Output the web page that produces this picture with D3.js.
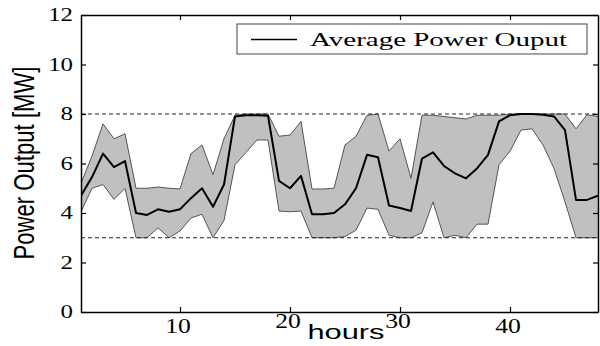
<!DOCTYPE html>
<html>
<head>
<meta charset="utf-8">
<script src="https://cdn.jsdelivr.net/npm/d3@7/dist/d3.min.js"></script>
<style>
  html, body { margin: 0; padding: 0; background: #fff; }
  svg { display: block; }
</style>
</head>
<body>
<svg id="chart" width="600" height="346"></svg>
<script>
// ---- data ----
const hours = [1,2,3,4,5,6,7,8,9,10,11,12,13,14,15,16,17,18,19,20,21,22,23,24,
               25,26,27,28,29,30,31,32,33,34,35,36,37,38,39,40,41,42,43,44,45,46,47,48];
const upperBound = [5.2,6.3,7.6,7.0,7.2,5.0,5.0,5.05,5.0,4.97,6.4,6.75,5.55,7.0,7.95,8.0,8.0,8.0,
                    7.1,7.15,7.7,4.97,4.97,5.0,6.75,7.1,7.95,8.0,6.5,7.0,5.4,7.95,7.95,7.9,7.85,7.8,
                    7.95,7.95,7.95,8.0,8.0,8.0,8.0,8.0,8.0,7.4,7.97,7.9];
const meanOutput = [4.7,5.45,6.4,5.85,6.1,4.0,3.92,4.15,4.05,4.15,4.6,5.0,4.25,5.15,7.9,7.95,7.95,7.93,
                    5.3,5.0,5.5,3.95,3.95,4.0,4.35,5.0,6.35,6.25,4.3,4.2,4.08,6.2,6.45,5.9,5.6,5.4,
                    5.8,6.35,7.7,7.95,8.0,8.0,7.97,7.9,7.35,4.53,4.53,4.7];
const lowerBound = [4.05,5.0,5.15,4.55,5.0,3.0,3.0,3.4,3.0,3.27,3.8,3.95,3.0,3.7,5.95,6.45,6.95,6.95,
                    4.08,4.05,4.08,3.0,3.0,3.0,3.05,3.3,4.2,4.15,3.1,3.0,3.0,3.2,4.45,3.0,3.1,3.0,
                    3.55,3.55,5.95,6.5,7.35,7.4,6.75,5.8,4.45,3.0,3.0,3.0];
const meanStart = 2.0;          // initial value of the average line at hour 1
const limitLines = [8, 3];      // dashed reference levels
const xTicks = [10, 20, 30, 40];
const yTicks = [0, 2, 4, 6, 8, 10, 12];
const legendLabel = "Average Power Ouput";
const xLabel = "hours";
const yLabel = "Power Output [MW]";

// ---- layout ----
const L = 81, R = 598, T = 15, B = 312;
const svg = d3.select("#chart");
const x = d3.scaleLinear().domain([1, 48]).range([L, R]);
const y = d3.scaleLinear().domain([0, 12]).range([B, T]);

svg.append("clipPath").attr("id", "plotclip")
  .append("rect").attr("x", L).attr("y", T).attr("width", R - L).attr("height", B - T);

const plot = svg.append("g").attr("clip-path", "url(#plotclip)");

// band
const bandData = hours.map((h, i) => ({h, lo: lowerBound[i], hi: upperBound[i]}));
plot.append("path")
  .datum(bandData)
  .attr("d", d3.area().x(d => x(d.h)).y0(d => y(d.lo)).y1(d => y(d.hi)))
  .attr("fill", "#c0c0c0").attr("stroke", "none");
plot.append("path").datum(bandData)
  .attr("d", d3.line().x(d => x(d.h)).y(d => y(d.hi)))
  .attr("fill", "none").attr("stroke", "#555").attr("stroke-width", 1);
plot.append("path").datum(bandData)
  .attr("d", d3.line().x(d => x(d.h)).y(d => y(d.lo)))
  .attr("fill", "none").attr("stroke", "#555").attr("stroke-width", 1);

// dashed limits
plot.selectAll("line.limit").data(limitLines).enter().append("line")
  .attr("x1", L).attr("x2", R)
  .attr("y1", d => y(d)).attr("y2", d => y(d))
  .attr("stroke", "#222").attr("stroke-width", 1)
  .attr("stroke-dasharray", "4,3");

// mean line
const meanData = [{h: hours[0], v: meanStart}].concat(hours.map((h, i) => ({h, v: meanOutput[i]})));
plot.append("path").datum(meanData)
  .attr("d", d3.line().x(d => x(d.h)).y(d => y(d.v)))
  .attr("fill", "none").attr("stroke", "#000").attr("stroke-width", 2)
  .attr("stroke-linejoin", "round");

// axes with inward ticks
const tickLen = 5;
const axB = svg.append("g").attr("transform", `translate(0,${B})`)
  .call(d3.axisBottom(x).tickValues(xTicks).tickSizeInner(-tickLen).tickSizeOuter(0).tickFormat(""));
const axT = svg.append("g").attr("transform", `translate(0,${T})`)
  .call(d3.axisTop(x).tickValues(xTicks).tickSizeInner(-tickLen).tickSizeOuter(0).tickFormat(""));
const axL = svg.append("g").attr("transform", `translate(${L},0)`)
  .call(d3.axisLeft(y).tickValues(yTicks).tickSizeInner(-tickLen).tickSizeOuter(0).tickFormat(""));
const axR = svg.append("g").attr("transform", `translate(${R},0)`)
  .call(d3.axisRight(y).tickValues(yTicks).tickSizeInner(-tickLen).tickSizeOuter(0).tickFormat(""));
[axB, axT, axL, axR].forEach(a => {
  a.select(".domain").attr("stroke", "#000").attr("stroke-width", 1.5);
  a.selectAll(".tick line").attr("stroke", "#000").attr("stroke-width", 1.2);
});

// helper to stretch text horizontally
function stretch(sel, factor) {
  sel.each(function() {
    const len = this.getComputedTextLength();
    d3.select(this).attr("textLength", len * factor).attr("lengthAdjust", "spacingAndGlyphs");
  });
}

// y tick labels
const yl = svg.append("g").selectAll("text").data(yTicks).enter().append("text")
  .attr("x", L - 8).attr("y", d => y(d) + 6)
  .attr("text-anchor", "end")
  .attr("font-family", "Liberation Serif, Times New Roman, serif")
  .attr("font-size", 18).attr("fill", "#000")
  .text(d => d);
stretch(yl, 1.38);

// x tick labels (20 and 30 sit slightly higher in the reference)
const xl = svg.append("g").selectAll("text").data(xTicks).enter().append("text")
  .attr("x", d => x(d) - 2).attr("y", d => (d === 20 || d === 30) ? 328 : 333)
  .attr("text-anchor", "middle")
  .attr("font-family", "Liberation Serif, Times New Roman, serif")
  .attr("font-size", 21).attr("fill", "#000")
  .text(d => d);
stretch(xl, 1.22);

// axis titles
svg.append("text")
  .attr("x", 346).attr("y", 339)
  .attr("text-anchor", "middle")
  .attr("font-family", "Liberation Sans, Arial, sans-serif")
  .attr("font-size", 21).attr("fill", "#000")
  .attr("textLength", 77).attr("lengthAdjust", "spacingAndGlyphs")
  .text(xLabel);

svg.append("text")
  .attr("transform", `translate(34,163) scale(1.3,1) rotate(-90)`)
  .attr("text-anchor", "middle")
  .attr("font-family", "Liberation Sans, Arial, sans-serif")
  .attr("font-size", 22).attr("fill", "#000")
  .attr("textLength", 193).attr("lengthAdjust", "spacingAndGlyphs")
  .text(yLabel);

// legend
const lg = svg.append("g");
lg.append("rect").attr("x", 237).attr("y", 24).attr("width", 350).attr("height", 30)
  .attr("fill", "#fff").attr("stroke", "#444").attr("stroke-width", 1);
lg.append("line").attr("x1", 251).attr("x2", 297).attr("y1", 39.5).attr("y2", 39.5)
  .attr("stroke", "#000").attr("stroke-width", 1.5);
lg.append("text").attr("x", 310).attr("y", 46)
  .attr("font-family", "Liberation Serif, Times New Roman, serif")
  .attr("font-size", 19).attr("fill", "#000")
  .attr("textLength", 257).attr("lengthAdjust", "spacingAndGlyphs")
  .text(legendLabel);
</script>
</body>
</html>
